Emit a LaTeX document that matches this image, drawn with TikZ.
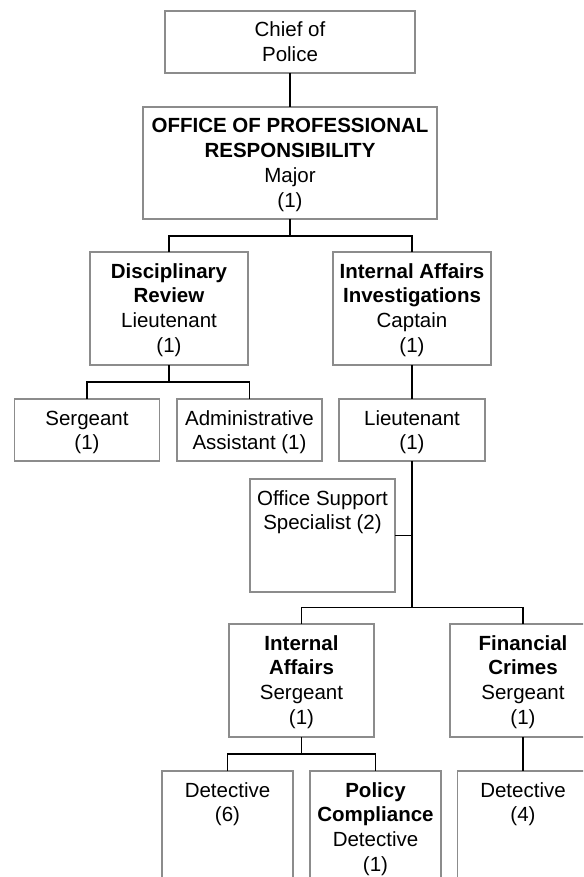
\documentclass[tikz,border=0pt]{standalone}
\usepackage{fontspec}
\setmainfont{Liberation Sans}
\usepackage{xcolor}
\usepackage{tikz}
\usetikzlibrary{positioning}
\definecolor{boxgray}{HTML}{8C8C8C}

% text of one post, set at the top of a box of fixed size
\newcommand{\posttext}[3]{\parbox[c][#2][t]{#1}{\centering\rule{0pt}{26pt}#3}}

\begin{document}
\begin{tikzpicture}[x=1pt, y=-1pt,
    post/.style={draw=boxgray, line width=1.2pt, inner sep=0pt, outer sep=0pt,
        font=\fontsize{20.5}{24.8}\selectfont},
    link/.style={line width=1.3pt, black}]
        \useasboundingbox (0,0) rectangle (583,877);
        \clip (0,0) rectangle (583,877);
        \node[post] (chief) at (290,42) {\posttext{250pt}{62pt}{Chief of\\Police}};
        \node[post] (opr) at (290,163) {\posttext{294pt}{112pt}{\textbf{OFFICE OF PROFESSIONAL}\\\textbf{RESPONSIBILITY}\\Major\\(1)}};
        \node[post] (dr) at (169,308.5) {\posttext{158pt}{113pt}{\textbf{Disciplinary}\\\textbf{Review}\\Lieutenant\\(1)}};
        \node[post] (iai) at (412,308.5) {\posttext{158pt}{113pt}{\textbf{Internal Affairs}\\\textbf{Investigations}\\Captain\\(1)}};
        \node[post] (sgt) at (87,430) {\posttext{145pt}{62pt}{Sergeant\\(1)}};
        \node[post] (admin) at (249.5,430) {\posttext{145pt}{62pt}{Administrative\\Assistant (1)}};
        \node[post] (lt) at (412,430) {\posttext{146pt}{62pt}{Lieutenant\\(1)}};
        \node[post] (oss) at (322.5,535.5) {\posttext{145pt}{113pt}{Office Support\\Specialist (2)}};
        \node[post] (ia) at (301.5,680.5) {\posttext{145pt}{113pt}{\textbf{Internal}\\\textbf{Affairs}\\Sergeant\\(1)}};
        \node[post] (fc) at (523,680.5) {\posttext{146pt}{113pt}{\textbf{Financial}\\\textbf{Crimes}\\Sergeant\\(1)}};
        \node[post] (det6) at (227.5,827.5) {\posttext{131pt}{113pt}{Detective\\(6)}};
        \node[post] (pc) at (375.5,827.5) {\posttext{131pt}{113pt}{\textbf{Policy}\\\textbf{Compliance}\\Detective\\(1)}};
        \node[post] (det4) at (523,827.5) {\posttext{131pt}{113pt}{Detective\\(4)}};
        \coordinate (oprbus) at (290,236);
        \coordinate (drbus) at (169,382);
        \coordinate (ltbus) at (412,607.5);
        \coordinate (iabus) at (301.5,754);
        \draw[link] (chief) -- (opr);
        \draw[link] (opr) -- (oprbus);
        \draw[link] (dr.north) |- (oprbus) -| (iai.north);
        \draw[link] (dr) -- (drbus);
        \draw[link] (sgt.north) |- (drbus) -| (admin.north);
        \draw[link] (iai) -- (lt);
        \draw[link] (lt) -- (ltbus);
        \draw[link] (oss.east) -- (oss.east -| ltbus);
        \draw[link] (ia.north) |- (ltbus) -| (fc.north);
        \draw[link] (ia) -- (iabus);
        \draw[link] (det6.north) |- (iabus) -| (pc.north);
        \draw[link] (fc) -- (det4);
    \end{tikzpicture}
\end{document}
